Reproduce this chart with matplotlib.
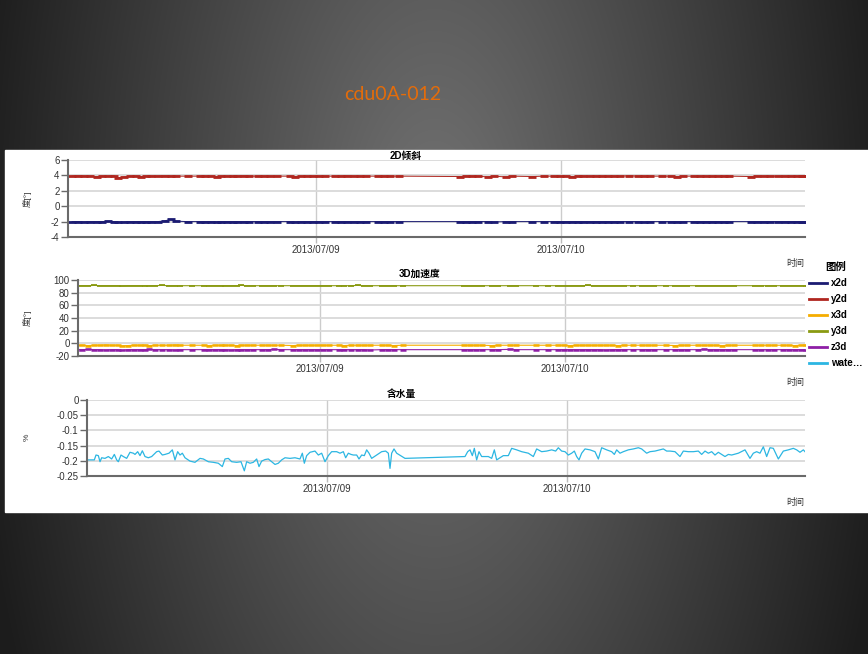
import numpy as np
import matplotlib
matplotlib.use('Agg')
import matplotlib.pyplot as plt
from matplotlib.lines import Line2D
from matplotlib.patches import Rectangle
from matplotlib.ticker import FuncFormatter

plt.rcParams['font.family'] = ['Liberation Sans', 'Noto Sans CJK SC']
plt.rcParams['axes.unicode_minus'] = False

W, H = 868, 654
start = np.datetime64('2013-07-08T00:00')
date_labels = ['2013/07/09', '2013/07/10']
date_hours = [24, 48]

# sensor sample times (hours after 2013/07/08 00:00)
sensor_hours = [0.1, 0.7, 1.3, 1.9, 2.5, 3.0, 3.6, 4.2, 4.6, 5.2,
                5.8, 6.4, 6.9, 7.3, 7.8, 8.5, 9.2, 9.8, 10.3, 11.5,
                12.6, 13.1, 13.7, 14.3, 14.7, 15.3, 15.9, 16.3, 16.9, 17.4,
                18.3, 18.9, 19.5, 20.2, 21.4, 21.9, 22.5, 23.1, 23.7, 24.3,
                24.9, 25.9, 26.4, 27.0, 27.7, 28.3, 28.9, 30.1, 30.7, 31.2,
                32.1, 38.1, 38.7, 39.3, 39.9, 40.8, 41.4, 42.6, 43.2, 45.2,
                46.3, 47.3, 47.9, 48.5, 49.1, 49.7, 50.2, 50.8, 51.4, 52.0,
                52.6, 53.2, 53.8, 54.7, 55.5, 56.1, 56.7, 57.9, 58.8, 59.4,
                59.9, 61.0, 61.6, 62.2, 62.8, 63.4, 64.0, 64.5, 66.6, 67.2,
                67.9, 68.5, 69.3, 69.9, 70.5, 71.1, 71.6, 71.8]

x2d = [-2.0, -2.0, -2.05, -2.0, -2.0, -2.0, -1.95, -2.0, -2.1, -2.05,
       -2.0, -2.0, -2.0, -2.0, -2.0, -2.0, -1.9, -1.7, -1.95, -2.0,
       -2.0, -2.0, -2.0, -2.05, -2.0, -2.0, -2.0, -2.0, -2.0, -2.0,
       -2.0, -2.0, -2.0, -2.0, -2.0, -2.05, -2.0, -2.0, -2.0, -2.0,
       -2.0, -2.0, -2.0, -2.0, -2.0, -2.0, -2.0, -2.0, -2.0, -2.0,
       -2.0, -2.0, -2.0, -2.0, -2.0, -2.0, -2.05, -2.0, -2.0, -2.0,
       -2.0, -2.0, -2.0, -2.0, -2.0, -2.0, -2.0, -2.0, -2.0, -2.0,
       -2.0, -2.0, -2.0, -2.0, -2.0, -2.05, -2.0, -2.0, -2.0, -2.0,
       -2.0, -2.0, -2.0, -2.0, -2.0, -2.0, -2.0, -2.0, -2.0, -2.0,
       -2.0, -2.0, -2.0, -2.0, -2.0, -2.0, -2.0, -2.0]

y2d = [3.9, 3.95, 3.9, 3.9, 3.85, 3.9, 3.9, 3.95, 3.7, 3.8,
       3.9, 3.9, 3.85, 3.9, 3.9, 3.9, 3.95, 3.9, 3.9, 3.9,
       3.9, 3.9, 3.9, 3.85, 3.9, 3.9, 3.9, 3.9, 3.95, 3.9,
       3.9, 3.9, 3.9, 3.9, 3.9, 3.85, 3.9, 3.9, 3.9, 3.9,
       3.9, 3.9, 3.9, 3.95, 3.9, 3.9, 3.9, 3.9, 3.9, 3.9,
       3.9, 3.85, 3.9, 3.9, 3.9, 3.8, 3.9, 3.8, 3.9, 3.85,
       3.9, 3.9, 3.9, 3.9, 3.85, 3.9, 3.9, 3.9, 3.9, 3.9,
       3.9, 3.9, 3.9, 3.95, 3.9, 3.9, 3.9, 3.9, 3.9, 3.85,
       3.9, 3.9, 3.9, 3.9, 3.9, 3.9, 3.9, 3.9, 3.85, 3.9,
       3.9, 3.9, 3.9, 3.9, 3.9, 3.9, 3.9, 3.9]

x3d = [-3, -3, -3.5, -3, -3, -2.5, -3, -3, -4, -3.5,
       -3, -3, -3, -3.5, -3, -3, -3, -2.5, -3, -3,
       -3, -3.5, -3, -3, -3, -3, -3.5, -3, -3, -3,
       -3, -3, -3, -3, -3.5, -3, -3, -3, -3, -3,
       -3, -3, -3.5, -3, -3, -3, -3, -3, -3, -3.5,
       -3, -3, -3, -3, -3, -3.5, -3, -3, -3, -3,
       -3, -3, -3, -3.5, -3, -3, -3, -3, -3, -3,
       -3, -3.5, -3, -3, -3, -3, -3, -3, -3.5, -3,
       -3, -3, -3, -3, -3, -3.5, -3, -3, -3, -3,
       -3, -3, -3, -3, -3.5, -3, -3, -3]

y3d = [91, 91, 91, 91.5, 91, 91, 91, 91, 90.5, 91,
       91, 91, 91, 91, 91, 91.5, 91, 91, 91, 91,
       91, 91, 91, 91, 91, 91, 91, 91.5, 91, 91,
       91, 91, 91, 91, 91, 91, 91, 91, 91, 91,
       91, 91, 91, 91, 91.5, 91, 91, 91, 91, 91,
       91, 91, 91, 91, 91, 91, 91, 91, 91, 91,
       91, 91, 91, 91, 91, 91, 91.5, 91, 91, 91,
       91, 91, 91, 91, 91, 91, 91, 91, 91, 91,
       91, 91, 91, 91, 91, 91, 91, 91, 91, 91,
       91, 91, 91, 91, 91, 91, 91, 91]

z3d = [-10, -10, -9.5, -10, -10, -10.5, -10, -10, -11, -10,
       -10, -10, -10, -9.5, -10, -10, -10, -10.5, -10, -10,
       -10, -10, -10, -10, -10, -10.5, -10, -10, -10, -10,
       -10, -10, -9.5, -10, -10, -10, -10, -10, -10, -10,
       -10, -10, -10, -10, -10, -10, -10.5, -10, -10, -10,
       -10, -10, -10, -10, -10, -10, -10, -9.5, -10, -10,
       -10, -10, -10, -10, -10, -10, -10, -10, -10, -10.5,
       -10, -10, -10, -10, -10, -10, -10, -10, -10, -10,
       -10, -10, -9.5, -10, -10, -10, -10, -10, -10, -10,
       -10, -10, -10, -10, -10, -10, -10, -10]

# water content, separate sample times
water_hours = [0.0, 0.73, 0.9, 1.13, 1.3, 1.47, 1.8, 2.13, 2.47, 2.73,
               2.97, 3.13, 3.4, 3.63, 3.97, 4.3, 4.63, 4.8, 5.07, 5.3,
               5.53, 5.8, 6.13, 6.47, 6.97, 7.2, 7.53, 7.8, 8.2, 8.53,
               8.8, 9.07, 9.3, 9.53, 9.8, 10.3, 10.8, 11.3, 11.63, 12.13,
               12.63, 13.13, 13.53, 13.8, 14.13, 14.47, 14.97, 15.4, 15.73, 15.97,
               16.3, 16.63, 16.97, 17.2, 17.47, 17.8, 18.13, 18.47, 18.8, 19.13,
               19.47, 19.8, 20.3, 20.8, 21.3, 21.53, 21.73, 21.97, 22.3, 22.8,
               23.13, 23.47, 23.73, 23.8, 24.13, 24.47, 24.97, 25.3, 25.63, 25.87,
               26.13, 26.4, 26.63, 26.97, 27.2, 27.47, 27.73, 27.97, 28.2, 28.47,
               28.97, 29.47, 29.87, 30.13, 30.3, 30.47, 30.7, 30.97, 31.8, 37.8,
               38.07, 38.3, 38.53, 38.73, 38.97, 39.2, 39.47, 40.13, 40.47, 40.73,
               40.97, 41.63, 42.13, 42.47, 42.97, 43.47, 44.13, 44.63, 44.97, 45.47,
               45.97, 46.47, 46.87, 47.13, 47.47, 47.8, 48.13, 48.47, 48.73, 48.97,
               49.2, 49.47, 49.8, 50.3, 50.8, 51.13, 51.47, 51.97, 52.47, 52.73,
               52.97, 53.3, 53.63, 54.13, 54.63, 55.13, 55.47, 55.97, 56.3, 56.8,
               57.3, 57.63, 57.97, 58.3, 58.8, 59.3, 59.63, 60.13, 60.63, 61.13,
               61.47, 61.8, 62.13, 62.47, 62.8, 63.13, 63.47, 63.8, 64.13, 64.47,
               65.13, 65.8, 66.3, 66.63, 66.97, 67.3, 67.63, 67.97, 68.3, 68.63,
               69.13, 69.63, 70.13, 70.63, 70.97, 71.3, 71.63, 71.8]

water = [-0.197, -0.197, -0.181, -0.183, -0.203, -0.190, -0.192, -0.186, -0.194, -0.179,
         -0.197, -0.203, -0.181, -0.186, -0.192, -0.172, -0.175, -0.179, -0.170, -0.183,
         -0.167, -0.186, -0.190, -0.186, -0.170, -0.168, -0.181, -0.179, -0.175, -0.164,
         -0.197, -0.170, -0.181, -0.175, -0.190, -0.201, -0.205, -0.192, -0.194, -0.203,
         -0.205, -0.208, -0.219, -0.194, -0.192, -0.203, -0.205, -0.203, -0.233, -0.203,
         -0.208, -0.205, -0.194, -0.219, -0.201, -0.196, -0.194, -0.203, -0.212, -0.208,
         -0.197, -0.190, -0.192, -0.190, -0.194, -0.175, -0.208, -0.183, -0.172, -0.168,
         -0.181, -0.175, -0.197, -0.203, -0.183, -0.170, -0.170, -0.175, -0.170, -0.190,
         -0.175, -0.179, -0.181, -0.181, -0.194, -0.181, -0.183, -0.164, -0.175, -0.192,
         -0.181, -0.170, -0.168, -0.175, -0.225, -0.175, -0.161, -0.175, -0.192, -0.186,
         -0.170, -0.164, -0.183, -0.159, -0.197, -0.170, -0.186, -0.186, -0.192, -0.164,
         -0.197, -0.183, -0.183, -0.159, -0.164, -0.170, -0.175, -0.186, -0.161, -0.170,
         -0.168, -0.164, -0.168, -0.157, -0.168, -0.170, -0.181, -0.175, -0.168, -0.186,
         -0.197, -0.175, -0.161, -0.164, -0.170, -0.194, -0.157, -0.164, -0.170, -0.179,
         -0.164, -0.175, -0.170, -0.164, -0.161, -0.157, -0.161, -0.175, -0.170, -0.168,
         -0.164, -0.161, -0.168, -0.168, -0.170, -0.186, -0.168, -0.170, -0.170, -0.168,
         -0.179, -0.168, -0.175, -0.170, -0.181, -0.172, -0.179, -0.186, -0.179, -0.181,
         -0.175, -0.164, -0.192, -0.175, -0.170, -0.175, -0.154, -0.186, -0.157, -0.159,
         -0.194, -0.168, -0.164, -0.159, -0.164, -0.172, -0.164, -0.170]

colors = {'x2d': '#1b1b72', 'y2d': '#b0261f', 'x3d': '#f5ad00',
          'y3d': '#8a9a12', 'z3d': '#8e1fa6', 'water': '#2cb6e2'}


def to_time(hours):
    mins = np.round(np.array(hours, dtype=float) * 60).astype(int)
    return start + mins.astype('timedelta64[m]')


def fx(px):
    return px / W


def fy(py):
    return 1 - py / H


fig = plt.figure(figsize=(W / 100, H / 100), dpi=100)

# slide background: dark radial gradient
bg = fig.add_axes([0, 0, 1, 1], zorder=-10)
yy, xx = np.mgrid[0:H, 0:W]
r = np.sqrt(((xx - 434) / 434.0) ** 2 + ((yy - 250) / 900.0) ** 2)
g = np.clip(116 - 82 * r, 28, 255) / 255.0
bg.imshow(np.dstack([g, g, g]), extent=[0, W, H, 0], aspect='auto')
bg.set_xlim(0, W)
bg.set_ylim(H, 0)
bg.axis('off')
bg.add_patch(Rectangle((5, 150), W - 5, 362, color='white'))

fig.text(fx(393), fy(95), 'cdu0A-012', color='#e46c0a', fontsize=14,
         family='Lato', ha='center', va='center')


def style(ax, yticks, xlim_hours):
    ax.set_ylim(yticks[0], yticks[-1])
    ax.set_yticks(yticks)
    ax.yaxis.set_major_formatter(FuncFormatter(lambda v, p: '%g' % v))
    ax.set_xlim(*to_time(xlim_hours))
    ax.set_xticks(to_time(date_hours))
    ax.set_xticklabels(date_labels)
    ax.grid(axis='y', color='#d9d9d9', lw=1.3)
    ax.grid(axis='x', color='#cccccc', lw=1.0)
    ax.set_axisbelow(True)
    for s in ('top', 'right'):
        ax.spines[s].set_visible(False)
    for s in ('left', 'bottom'):
        ax.spines[s].set_color('#6a6a6a')
        ax.spines[s].set_linewidth(1.5)
    ax.tick_params(axis='y', length=5, width=1, color='#6a6a6a',
                   labelsize=7, labelcolor='#333333', pad=1)
    ax.tick_params(axis='x', length=4, width=1, color='#bbbbbb',
                   labelsize=7, labelcolor='#333333', pad=2)


t_s = to_time(sensor_hours)

ax1 = fig.add_axes([fx(68), fy(237), fx(805 - 68), 77 / H])
style(ax1, [-4, -2, 0, 2, 4, 6], [-0.3, 71.9])
ax1.plot(t_s, y2d, color=colors['y2d'], lw=0.7, marker='_', ms=5.5, mew=2.0)
ax1.plot(t_s, x2d, color=colors['x2d'], lw=0.7, marker='_', ms=5.5, mew=2.0)

ax2 = fig.add_axes([fx(78), fy(356), fx(805 - 78), 76 / H])
style(ax2, [-20, 0, 20, 40, 60, 80, 100], [0.3, 71.5])
ax2.plot(t_s, y3d, color=colors['y3d'], lw=0.8, marker='_', ms=5, mew=1.3)
ax2.plot(t_s, x3d, color=colors['x3d'], lw=0.8, marker='_', ms=5, mew=1.8)
ax2.plot(t_s, z3d, color=colors['z3d'], lw=0.8, marker='_', ms=5, mew=1.8)

ax3 = fig.add_axes([fx(87), fy(476), fx(805 - 87), 76 / H])
style(ax3, [-0.25, -0.2, -0.15, -0.1, -0.05, 0], [0, 71.8])
ax3.plot(to_time(water_hours), water, color=colors['water'], lw=0.9)

# titles and axis labels
fig.text(fx(406), fy(156), '2D倾斜', fontsize=7, weight='bold', ha='center', va='center')
fig.text(fx(420), fy(274), '3D加速度', fontsize=7, weight='bold', ha='center', va='center')
fig.text(fx(401), fy(394), '含水量', fontsize=7, weight='bold', ha='center', va='center')
fig.text(fx(27), fy(199), '度[°]', fontsize=6, rotation=90, ha='center', va='center', color='#333333')
fig.text(fx(27), fy(318), '度[°]', fontsize=6, rotation=90, ha='center', va='center', color='#333333')
fig.text(fx(27), fy(437), '%', fontsize=6, rotation=90, ha='center', va='center', color='#333333')
for py in (263, 383, 503):
    fig.text(fx(795), fy(py), '时间', fontsize=6.5, ha='center', va='center', color='#333333')

handles = [Line2D([], [], color=colors[k], lw=2) for k in ('x2d', 'y2d', 'x3d', 'y3d', 'z3d', 'water')]
labels = ['x2d', 'y2d', 'x3d', 'y3d', 'z3d', 'wate…']
fig.legend(handles, labels, loc='upper left', bbox_to_anchor=(fx(809), fy(262)),
           frameon=False, title='图例', title_fontproperties={'weight': 'bold', 'size': 7.5},
           prop={'weight': 'bold', 'size': 7}, handlelength=1.9, handletextpad=0.35,
           labelspacing=0.62, borderpad=0, borderaxespad=0)

fig.savefig('out.png', dpi=100)
